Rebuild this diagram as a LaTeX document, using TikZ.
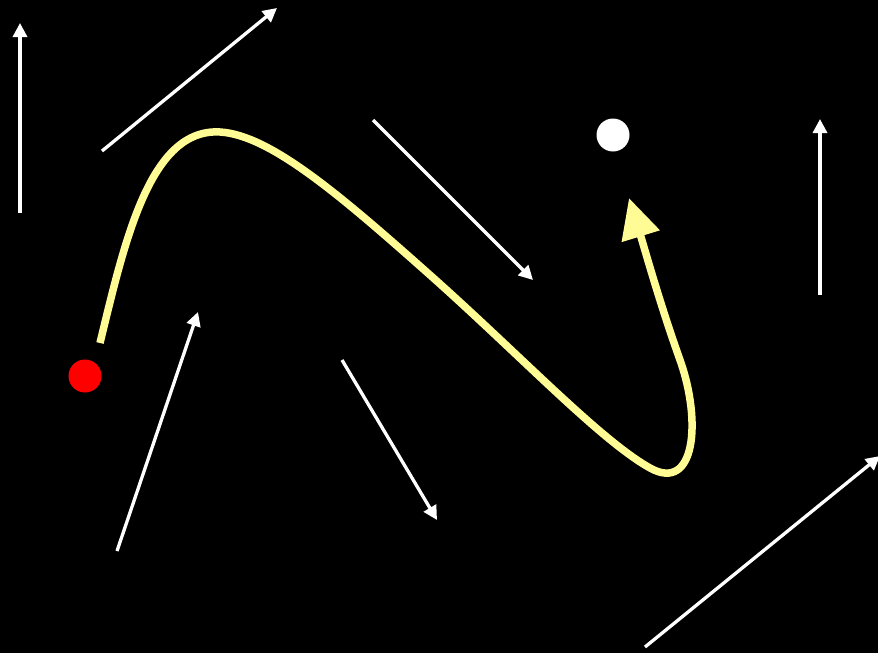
\documentclass[tikz,border=0pt]{standalone}
\usepackage{tikz}
\usetikzlibrary{arrows.meta}
\definecolor{PaleYellow}{RGB}{255,252,150}
\definecolor{DotRed}{RGB}{255,0,0}

\begin{document}
\begin{tikzpicture}[x=1pt, y=-1pt,
    vec/.style={draw=white, line width=3.3pt, -{Triangle[length=14pt, width=14pt]}},
    traj/.style={draw=PaleYellow, line width=7.5pt, -{Triangle[length=40pt, width=38pt]}},
    dot/.style={circle, inner sep=0pt, minimum size=33pt}
]
    \fill[black] (0,0) rectangle (878,653);
    \useasboundingbox (0,0) rectangle (878,653);
    % field vectors
    \draw[vec] (20,213) -- (20,23);
    \draw[vec] (102,151) -- (277,8);
    \draw[vec] (373,120) -- (533,280);
    \draw[vec] (820,295) -- (820,119);
    \draw[vec] (117,551) -- (198,312);
    \draw[vec] (342,360) -- (437,520);
    \draw[vec] (645,647) -- (880,456);
    % start and goal
    \node[dot, fill=DotRed] (start) at (85,376) {};
    \node[dot, fill=white] (goal) at (613,135) {};
    % trajectory
    \draw[traj] (100,343) .. controls (125,240) and (150,128) .. (220,132)
        .. controls (270,135) and (340,195) .. (430,275)
        .. controls (520,355) and (600,440) .. (650,468)
        .. controls (695,493) and (702,422) .. (680,360)
        .. controls (660,304) and (645,250) .. (629,198);
\end{tikzpicture}
\end{document}
